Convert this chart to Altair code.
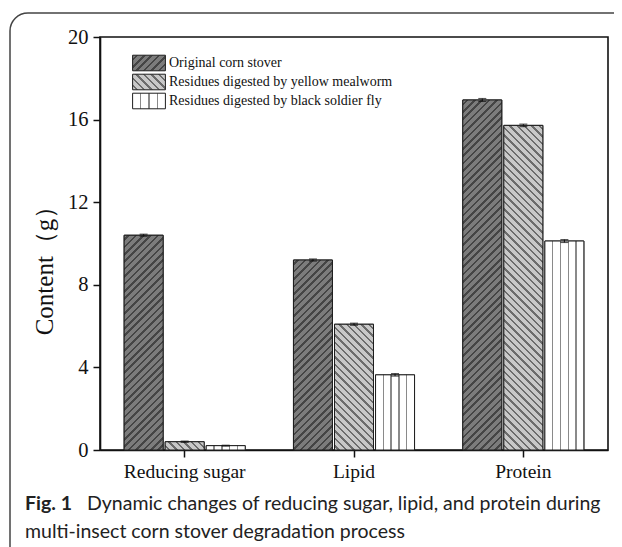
import json
import altair as alt
import pandas as pd

# ---------------- data ----------------
categories = ["Reducing sugar", "Lipid", "Protein"]
series = [
    "Original corn stover",
    "Residues digested by yellow mealworm",
    "Residues digested by black soldier fly",
]
original = [10.40, 9.20, 16.95]
mealworm = [0.40, 6.09, 15.72]
soldier_fly = [0.21, 3.64, 10.12]
original_err = [0.05, 0.05, 0.07]
mealworm_err = [0.03, 0.05, 0.06]
soldier_fly_err = [0.02, 0.06, 0.07]
y_ticks = [0, 4, 8, 12, 16, 20]
y_title = "Content（g）"
caption_label = "Fig. 1"
caption_line1 = "Dynamic changes of reducing sugar, lipid, and protein during"
caption_line2 = "multi-insect corn stover degradation process"

rows = []
for s, vals, errs in zip(series, [original, mealworm, soldier_fly],
                         [original_err, mealworm_err, soldier_fly_err]):
    for c, v, e in zip(categories, vals, errs):
        rows.append({"category": c, "series": s, "value": v,
                     "lo": round(v - e, 3), "hi": round(v + e, 3)})
df = pd.DataFrame(rows)
cap_df = pd.DataFrame({"label": [caption_label], "line1": [caption_line1],
                       "line2": [caption_line2]})

# ---------------- layout ----------------
PLOT_W, PLOT_H = 508, 413
Y_MAX = 20
X_PI, X_PO = 0.285, 0.1425
OFF_PI = 0.05
step = PLOT_W / (len(categories) - X_PI + 2 * X_PO)
band = step * (1 - X_PI)
BAR_W = band / (len(series) - OFF_PI) * (1 - OFF_PI)

STYLES = {
    series[0]: dict(kind="/", bg="#7c7c7c", fg="#454545", period=7.4, lw=2.6),
    series[1]: dict(kind="\\", bg="#c8c8c8", fg="#6c6c6c", period=7.4, lw=2.4),
    series[2]: dict(kind="|", bg="#ffffff", fg="#8a8a8a", period=None, lw=1.4),
}


def hatch(W, H, kind, bg, fg, period, lw, n=5):
    if kind == "|":
        total = W
        bands = [(W * i / n - lw / 2, W * i / n + lw / 2) for i in range(1, n)]
        coords = dict(x1=0, y1=0, x2=1, y2=0)
    else:
        total = W + H
        k = W * (W + H) / (W * W + H * H)
        if kind == "/":
            coords = dict(x1=0, y1=0, x2=round(k, 5), y2=round(k * H / W, 5))
        else:
            coords = dict(x1=0, y1=1, x2=round(k, 5), y2=round(1 - k * H / W, 5))
        bands = []
        s = period * 0.45
        while s < total:
            bands.append((s, s + lw))
            s += period
    stops = [{"offset": 0, "color": bg}]
    for a, b in bands:
        a = round(max(0.0, min(1.0, a / total)), 5)
        b = round(max(0.0, min(1.0, b / total)), 5)
        stops += [{"offset": a, "color": bg}, {"offset": a, "color": fg},
                  {"offset": b, "color": fg}, {"offset": b, "color": bg}]
    stops.append({"offset": 1, "color": bg})
    return {"gradient": "linear", **coords, "stops": stops}


SYM_W, SYM_H = 32.8, 15.6
legend_range = []
for s in series:
    st = STYLES[s]
    g = hatch(SYM_W, SYM_H, st["kind"], st["bg"], st["fg"], st["period"], st["lw"], n=4)
    legend_range.append({"expr": json.dumps(g)})

SERIF = "Liberation Serif"
SANS = "Lato"

x_enc = alt.X("category:N", sort=categories,
              scale=alt.Scale(domain=categories, paddingInner=X_PI, paddingOuter=X_PO),
              axis=alt.Axis(title=None, labelAngle=0, labelFont=SERIF, labelFontSize=19.5,
                            labelColor="#111", tickSize=7, tickColor="#111", tickWidth=1.5,
                            labelPadding=5, domainColor="#111", domainWidth=1.6))
xo_enc = alt.XOffset("series:N", sort=series,
                     scale=alt.Scale(domain=series, paddingInner=OFF_PI, paddingOuter=0))
y_scale = alt.Scale(domain=[0, Y_MAX], nice=False)
y_axis = alt.Axis(values=y_ticks, title=y_title, grid=False, labelFont=SERIF,
                  labelFontSize=20.5, labelColor="#111", tickSize=7, tickColor="#111",
                  tickWidth=1.5, labelPadding=5, domainColor="#111", domainWidth=1.6,
                  titleFont=SERIF, titleFontSize=25, titleFontWeight="normal",
                  titleColor="#111", titleAngle=270, titleX=-48, titleY=227,
                  titleAlign="center", titleBaseline="alphabetic")

base = alt.Chart(df).mark_bar(stroke="#1e1e1e", strokeWidth=1).encode(
    x=x_enc, xOffset=xo_enc,
    y=alt.Y("value:Q", scale=y_scale, axis=y_axis),
    color=alt.Color("series:N", sort=series,
                    scale=alt.Scale(domain=series, range=legend_range),
                    legend=alt.Legend(title=None, orient="none", legendX=40, legendY=17,
                                      padding=0, symbolType="M-2,-0.95H2V0.95H-2Z",
                                      symbolSize=(SYM_W / 2) ** 2,
                                      symbolStrokeColor="#1e1e1e", symbolStrokeWidth=1,
                                      labelFont=SERIF, labelFontSize=14, labelColor="#111",
                                      labelOffset=11, rowPadding=-1.3, labelLimit=400)),
)

layers = [base]
for s in series:
    st = STYLES[s]
    for c in categories:
        v = df[(df.series == s) & (df.category == c)]["value"].iloc[0]
        H = v / Y_MAX * PLOT_H
        g = hatch(BAR_W, H, st["kind"], st["bg"], st["fg"], st["period"], st["lw"], n=5)
        layers.append(
            alt.Chart(df)
            .transform_filter((alt.datum.series == s) & (alt.datum.category == c))
            .mark_bar(fill=g, stroke="#1e1e1e", strokeWidth=1)
            .encode(x=x_enc, xOffset=xo_enc, y=alt.Y("value:Q", scale=y_scale, axis=y_axis))
        )

err_rule = alt.Chart(df).mark_rule(color="#111", strokeWidth=1).encode(
    x=x_enc, xOffset=xo_enc,
    y=alt.Y("lo:Q", scale=y_scale, axis=y_axis), y2="hi:Q")
cap_lo = alt.Chart(df).mark_tick(color="#111", size=8, thickness=1.2).encode(
    x=x_enc, xOffset=xo_enc, y=alt.Y("lo:Q", scale=y_scale, axis=y_axis))
cap_hi = alt.Chart(df).mark_tick(color="#111", size=8, thickness=1.2).encode(
    x=x_enc, xOffset=xo_enc, y=alt.Y("hi:Q", scale=y_scale, axis=y_axis))
layers += [err_rule, cap_lo, cap_hi]

cap1 = alt.Chart(cap_df).mark_text(align="left", baseline="alphabetic", font=SANS,
                                   fontSize=19.5, fontWeight="bold", color="#222").encode(
    x=alt.value(-75), y=alt.value(473), text="label:N")
cap2 = alt.Chart(cap_df).mark_text(align="left", baseline="alphabetic", font=SANS,
                                   fontSize=19.5, color="#222").encode(
    x=alt.value(-13), y=alt.value(473), text="line1:N")
cap3 = alt.Chart(cap_df).mark_text(align="left", baseline="alphabetic", font=SANS,
                                   fontSize=19.5, color="#222").encode(
    x=alt.value(-75), y=alt.value(500.7), text="line2:N")
frame = alt.Chart(cap_df).mark_rect(fill="transparent", stroke="#444", strokeWidth=1.5,
                                    cornerRadius=18).encode(
    x=alt.value(-90), x2=alt.value(700), y=alt.value(-24), y2=alt.value(700))
layers += [cap1, cap2, cap3, frame]

chart = alt.layer(*layers).properties(
    width=PLOT_W, height=PLOT_H,
    autosize=alt.AutoSizeParams(type="none"),
    padding={"left": 92, "top": 29, "right": 6, "bottom": 97},
    background="white",
).configure_view(stroke="#111", strokeWidth=1.6)

chart.save("out.html", embed_options={"renderer": "svg", "actions": False})
